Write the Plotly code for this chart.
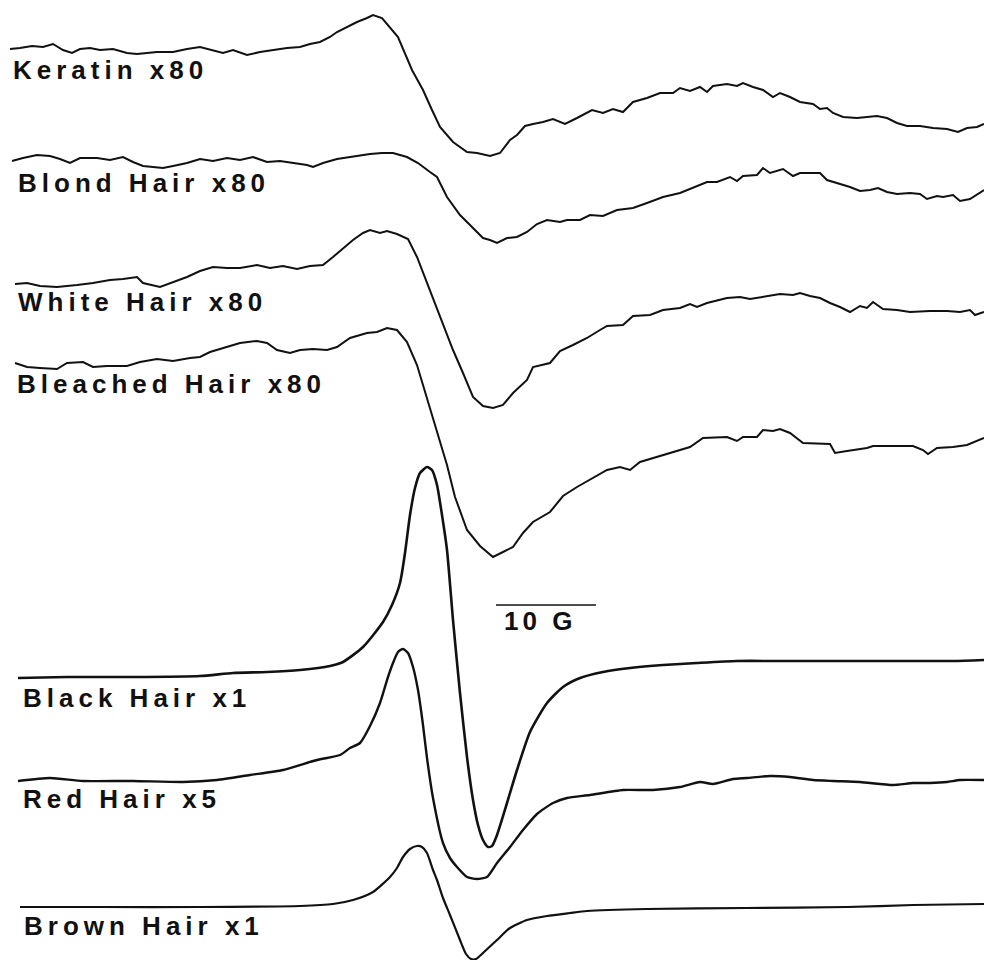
import plotly.graph_objects as go

# ---- data: field position (px along scan) and signal (px, downward) ----
KERATIN_X = [10, 20, 32, 43, 53, 63, 72, 80, 90, 100, 113, 127, 137, 147, 157, 173, 187, 200, 213, 223, 233, 247, 260, 273, 287, 300, 310, 320, 330, 337, 347, 357, 367, 373, 382, 390, 398, 412, 423, 432, 440, 453, 467, 477, 490, 500, 510, 517, 525, 533, 543, 553, 565, 577, 592, 603, 613, 623, 633, 647, 660, 673, 680, 690, 700, 707, 713, 727, 737, 743, 753, 763, 773, 780, 790, 800, 813, 820, 827, 833, 843, 857, 867, 877, 887, 897, 907, 920, 933, 947, 958, 967, 977, 984]
KERATIN_Y = [49, 48, 46, 47, 44, 50, 53, 49, 48, 50, 49, 53, 54, 53, 52, 52, 49, 47, 50, 53, 50, 55, 52, 50, 48, 47, 44, 42, 37, 32, 27, 22, 18, 15, 18, 28, 37, 70, 90, 110, 127, 142, 152, 153, 156, 153, 140, 135, 126, 124, 122, 119, 124, 118, 110, 113, 109, 112, 102, 98, 93, 93, 88, 91, 87, 92, 86, 84, 86, 83, 87, 90, 97, 93, 97, 102, 104, 109, 108, 113, 117, 118, 117, 116, 118, 123, 126, 126, 128, 129, 132, 128, 127, 124]

BLOND_X = [12, 23, 37, 50, 60, 70, 80, 97, 110, 123, 133, 143, 153, 163, 173, 187, 200, 213, 227, 240, 253, 267, 280, 293, 307, 313, 323, 337, 350, 360, 370, 382, 393, 407, 418, 430, 437, 447, 460, 470, 483, 490, 497, 507, 517, 527, 537, 547, 560, 567, 580, 590, 603, 617, 633, 647, 663, 680, 693, 707, 717, 730, 737, 743, 757, 763, 770, 783, 793, 800, 813, 820, 827, 840, 850, 860, 870, 878, 887, 897, 910, 920, 927, 937, 943, 953, 960, 970, 980, 984]
BLOND_Y = [161, 158, 155, 156, 159, 163, 158, 158, 160, 157, 162, 166, 167, 168, 166, 163, 159, 161, 158, 160, 157, 162, 161, 163, 165, 167, 163, 159, 157, 156, 154, 153, 153, 157, 163, 172, 177, 197, 215, 225, 238, 240, 243, 238, 237, 232, 224, 220, 222, 220, 220, 215, 216, 210, 208, 203, 197, 193, 188, 182, 182, 177, 181, 176, 175, 168, 173, 169, 176, 173, 173, 173, 180, 184, 187, 191, 190, 188, 192, 194, 193, 194, 199, 196, 197, 195, 201, 199, 193, 190]

WHITE_X = [15, 27, 40, 57, 77, 93, 110, 123, 137, 143, 160, 173, 187, 200, 213, 227, 240, 257, 270, 283, 297, 310, 323, 333, 343, 353, 363, 370, 380, 387, 397, 408, 417, 427, 437, 447, 453, 463, 473, 483, 493, 503, 513, 527, 533, 550, 560, 573, 587, 600, 607, 623, 633, 650, 663, 680, 690, 697, 707, 727, 740, 750, 767, 780, 793, 800, 810, 820, 830, 840, 850, 860, 867, 873, 883, 897, 910, 930, 947, 960, 970, 975, 984]
WHITE_Y = [284, 283, 286, 287, 285, 283, 280, 279, 277, 283, 287, 282, 277, 271, 267, 268, 268, 265, 268, 266, 269, 266, 265, 257, 248, 240, 233, 230, 233, 231, 234, 239, 257, 283, 307, 333, 350, 373, 397, 406, 408, 405, 393, 380, 367, 363, 351, 345, 338, 330, 326, 325, 316, 315, 310, 308, 304, 307, 303, 298, 297, 299, 296, 294, 295, 293, 296, 298, 303, 307, 312, 306, 308, 302, 309, 310, 312, 311, 311, 312, 310, 315, 312]

BLEACHED_X = [15, 27, 40, 57, 67, 83, 93, 107, 127, 140, 157, 173, 190, 200, 210, 227, 240, 257, 267, 277, 290, 300, 313, 327, 337, 350, 367, 377, 387, 397, 407, 417, 427, 437, 447, 455, 467, 480, 493, 503, 513, 523, 533, 550, 563, 577, 590, 607, 620, 630, 640, 657, 673, 690, 703, 727, 737, 743, 757, 763, 773, 780, 790, 803, 830, 835, 847, 867, 873, 893, 913, 923, 928, 937, 953, 967, 980, 984]
BLEACHED_Y = [363, 367, 368, 369, 363, 362, 367, 366, 366, 362, 359, 361, 358, 357, 352, 347, 343, 341, 343, 350, 353, 350, 349, 350, 347, 338, 333, 332, 328, 330, 342, 365, 398, 430, 465, 497, 530, 546, 557, 552, 547, 533, 522, 512, 496, 487, 480, 470, 467, 470, 462, 457, 452, 447, 438, 437, 441, 437, 437, 430, 431, 429, 433, 443, 444, 453, 451, 448, 446, 446, 446, 450, 454, 448, 447, 445, 440, 438]

BLACK_X = [18, 67, 133, 200, 233, 267, 300, 330, 343, 363, 383, 392, 400, 405, 410, 415, 420, 427, 432, 437, 442, 447, 453, 460, 467, 473, 478, 483, 488, 492, 497, 507, 517, 530, 547, 563, 580, 603, 630, 663, 697, 737, 780, 847, 913, 953, 984]
BLACK_Y = [678, 677, 677, 676, 673, 672, 670, 666, 662, 647, 622, 605, 583, 553, 515, 488, 473, 467, 470, 485, 515, 550, 620, 693, 757, 800, 825, 840, 847, 846, 835, 803, 770, 732, 703, 687, 678, 672, 668, 665, 663, 661, 661, 661, 661, 661, 660]

RED_X = [18, 50, 83, 133, 183, 217, 250, 283, 317, 340, 350, 360, 370, 380, 388, 393, 398, 403, 408, 413, 418, 423, 427, 433, 443, 450, 457, 467, 477, 487, 497, 510, 523, 537, 553, 567, 590, 623, 653, 680, 700, 713, 733, 747, 770, 790, 813, 833, 860, 893, 913, 930, 947, 960, 984]
RED_Y = [781, 778, 781, 781, 782, 780, 775, 770, 760, 755, 748, 743, 726, 703, 677, 663, 652, 649, 653, 667, 690, 725, 758, 798, 843, 858, 867, 877, 879, 877, 863, 847, 830, 814, 803, 798, 795, 790, 790, 787, 782, 784, 779, 778, 776, 777, 780, 781, 782, 785, 783, 783, 782, 780, 780]

BROWN_X = [20, 100, 200, 300, 333, 353, 373, 390, 397, 403, 410, 417, 422, 427, 433, 437, 443, 450, 460, 466, 471, 476, 483, 497, 510, 527, 547, 570, 587, 647, 747, 847, 913, 984]
BROWN_Y = [907, 907, 907, 906, 904, 900, 892, 877, 868, 857, 849, 846, 847, 853, 870, 880, 898, 915, 940, 954, 959, 959, 953, 940, 928, 920, 916, 913, 911, 909, 908, 907, 905, 904]

LABELS = ["Keratin x80", "Blond Hair x80", "White Hair x80", "Bleached Hair x80",
          "Black Hair x1", "Red Hair x5", "Brown Hair x1"]
LABEL_X = [11, 16, 16, 15, 21, 21, 22]
LABEL_Y = [70, 183, 302, 384, 698, 799, 926]
SCALE_TEXT = "10 G"

series = [
    (KERATIN_X, KERATIN_Y, 2.0, "linear"),
    (BLOND_X, BLOND_Y, 2.0, "linear"),
    (WHITE_X, WHITE_Y, 2.0, "linear"),
    (BLEACHED_X, BLEACHED_Y, 2.0, "linear"),
    (BLACK_X, BLACK_Y, 2.6, "spline"),
    (RED_X, RED_Y, 2.4, "spline"),
    (BROWN_X, BROWN_Y, 2.2, "spline"),
]

fig = go.Figure()
for xs, ys, w, shp in series:
    line = dict(color="#111111", width=w, shape=shp)
    if shp == "spline":
        line["smoothing"] = 0.6
    fig.add_trace(go.Scatter(x=xs, y=ys, mode="lines", line=line,
                             showlegend=False, hoverinfo="skip"))

# scale bar
fig.add_shape(type="line", x0=496, x1=596, y0=605, y1=605, xref="x", yref="y",
              line=dict(color="#111111", width=1.6))

font = dict(family="Liberation Sans, Arial, sans-serif", size=26, color="#111111", weight="bold")
for t, x, y in zip(LABELS, LABEL_X, LABEL_Y):
    fig.add_annotation(x=x, y=y, xref="x", yref="y", xanchor="left", yanchor="middle",
                       text='<span style="letter-spacing:5px">' + t + '</span>',
                       showarrow=False, font=font)
fig.add_annotation(x=502, y=621, xref="x", yref="y", xanchor="left", yanchor="middle",
                   text='<span style="letter-spacing:4px">' + SCALE_TEXT + '</span>',
                   showarrow=False, font=font)

fig.update_layout(
    width=984, height=960,
    margin=dict(l=0, r=0, t=0, b=0),
    paper_bgcolor="white", plot_bgcolor="white",
    xaxis=dict(range=[0, 984], visible=False, fixedrange=True),
    yaxis=dict(range=[960, 0], visible=False, fixedrange=True),
)

fig.write_html("out.html", config={"displayModeBar": False},
               post_script="document.body.style.margin='0';")
